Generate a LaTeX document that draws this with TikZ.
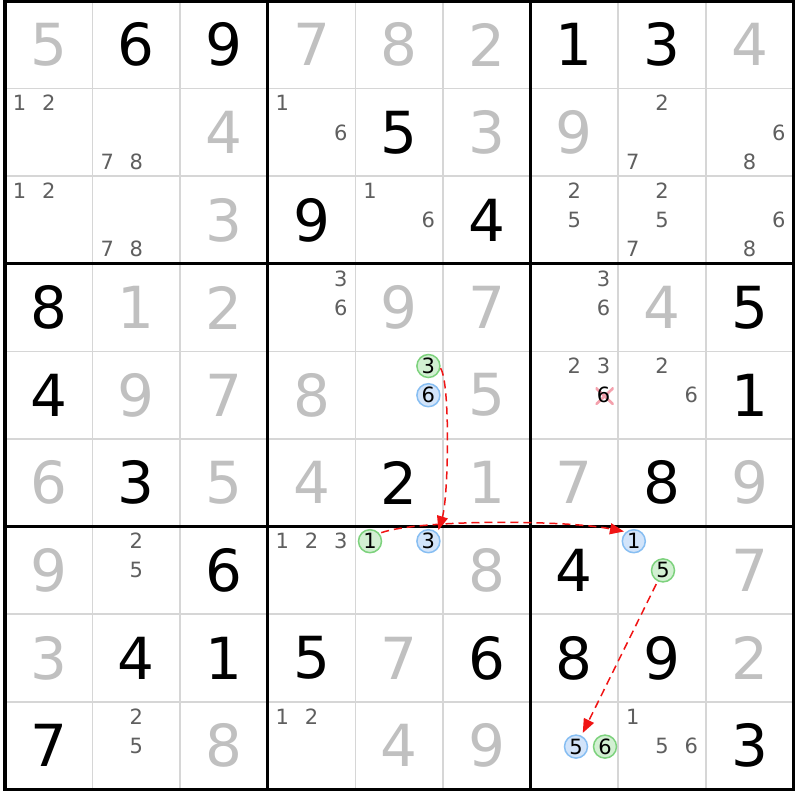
\documentclass[tikz,border=0pt]{standalone}
\usepackage{fontspec}
\setmainfont{DejaVu Sans}
\usetikzlibrary{arrows.meta}
\definecolor{givgray}{RGB}{192,192,192}
\definecolor{candgray}{RGB}{95,95,95}
\definecolor{thingrid}{RGB}{214,214,214}
\definecolor{grnfill}{RGB}{210,240,210}
\definecolor{grnline}{RGB}{125,210,125}
\definecolor{blufill}{RGB}{210,228,250}
\definecolor{bluline}{RGB}{135,190,242}
\definecolor{xpink}{RGB}{244,160,172}
\definecolor{linkred}{RGB}{240,20,20}
\begin{document}
\begin{tikzpicture}[x=1pt,y=-1pt,
  big/.style={inner sep=0pt, font=\fontsize{58}{58}\selectfont},
  cand/.style={inner sep=0pt, text=candgray, font=\fontsize{21}{21}\selectfont},
  circ/.style={circle, inner sep=0pt, minimum size=23pt, line width=1.5pt, text=black, font=\fontsize{21}{21}\selectfont},
  gcirc/.style={circ, fill=grnfill, draw=grnline},
  bcirc/.style={circ, fill=blufill, draw=bluline},
  xmark/.style={inner sep=0pt, minimum width=18pt, minimum height=17pt,
    path picture={\draw[xpink, line width=2.6pt]
      (path picture bounding box.north west) -- (path picture bounding box.south east)
      (path picture bounding box.north east) -- (path picture bounding box.south west);}},
  thinline/.style={thingrid, line width=1.5pt},
  thickline/.style={black, line width=3.2pt},
  link/.style={linkred, line width=1.5pt, dash pattern=on 8pt off 5pt, -{Triangle[length=14pt,width=11pt]}}
]
\useasboundingbox (0,0) rectangle (800,800);
\fill[white] (0,0) rectangle (800,800);
% grid
\foreach \i in {0,...,9}{
  \draw[thinline] ({5+87.6*\i},1) -- ({5+87.6*\i},789);
  \draw[thinline] (5,{1+87.6*\i}) -- (793,{1+87.6*\i});
}
\foreach \i in {0,3,6,9}{
  \draw[thickline] ({5+87.6*\i},-0.6) -- ({5+87.6*\i},790.6);
  \draw[thickline] (3.4,{1+87.6*\i}) -- (794.6,{1+87.6*\i});
}
% placed digits
\foreach \r/\c/\d/\s in {
 0/0/5/givgray,0/1/6/black,0/2/9/black,0/3/7/givgray,0/4/8/givgray,0/5/2/givgray,0/6/1/black,0/7/3/black,0/8/4/givgray,
 1/2/4/givgray,1/4/5/black,1/5/3/givgray,1/6/9/givgray,
 2/2/3/givgray,2/3/9/black,2/5/4/black,
 3/0/8/black,3/1/1/givgray,3/2/2/givgray,3/4/9/givgray,3/5/7/givgray,3/7/4/givgray,3/8/5/black,
 4/0/4/black,4/1/9/givgray,4/2/7/givgray,4/3/8/givgray,4/5/5/givgray,4/8/1/black,
 5/0/6/givgray,5/1/3/black,5/2/5/givgray,5/3/4/givgray,5/4/2/black,5/5/1/givgray,5/6/7/givgray,5/7/8/black,5/8/9/givgray,
 6/0/9/givgray,6/2/6/black,6/5/8/givgray,6/6/4/black,6/8/7/givgray,
 7/0/3/givgray,7/1/4/black,7/2/1/black,7/3/5/black,7/4/7/givgray,7/5/6/black,7/6/8/black,7/7/9/black,7/8/2/givgray,
 8/0/7/black,8/2/8/givgray,8/4/4/givgray,8/5/9/givgray,8/8/3/black}{
  \node[big, text=\s] (g\r\c) at ({5+87.6*(\c+0.5)},{1+87.6*(\r+0.5)}) {\d};
}
% candidates
\foreach \r/\c/\d in {
 1/0/1,1/0/2,1/1/7,1/1/8,1/3/1,1/3/6,1/7/2,1/7/7,1/8/6,1/8/8,
 2/0/1,2/0/2,2/1/7,2/1/8,2/4/1,2/4/6,2/6/2,2/6/5,2/7/2,2/7/5,2/7/7,2/8/6,2/8/8,
 3/3/3,3/3/6,3/6/3,3/6/6,
 4/6/2,4/6/3,4/7/2,4/7/6,
 6/1/2,6/1/5,6/3/1,6/3/2,6/3/3,
 8/1/2,8/1/5,8/3/1,8/3/2,8/7/1,8/7/5,8/7/6}{
  \pgfmathsetmacro\cx{5+87.6*\c+14.6+29.2*mod(\d-1,3)}
  \pgfmathsetmacro\cy{1+87.6*\r+14.6+29.2*int((\d-1)/3)}
  \node[cand] (k\r\c\d) at (\cx,\cy) {\d};
}
% eliminated candidate
\node[xmark] (x466) at (604.6,396.2) {};
\node[cand, text=black] (k466) at (603.6,395.2) {6};
% highlighted candidates
\node[gcirc] (a3) at (428.4,366.0) {3};
\node[bcirc] (a6) at (428.4,395.2) {6};
\node[gcirc] (b1) at (370.0,541.2) {1};
\node[bcirc] (b3) at (428.4,541.2) {3};
\node[bcirc] (c1) at (633.8,541.2) {1};
\node[gcirc] (c5) at (663.0,570.4) {5};
\node[bcirc] (d5) at (576.0,746.6) {5};
\node[gcirc] (d6) at (605.0,746.6) {6};
% links
\draw[link, shorten >=3pt] (a3.-10) .. controls +(10,14) and +(11,-36) .. (b3.42);
\draw[link, shorten <=2pt, shorten >=2pt] (b1.40) .. controls +(40,-14) and +(-62,-12) .. (c1.130);
\draw[link, shorten <=3pt, shorten >=3pt] (c5) -- (d5);
\end{tikzpicture}
\end{document}
